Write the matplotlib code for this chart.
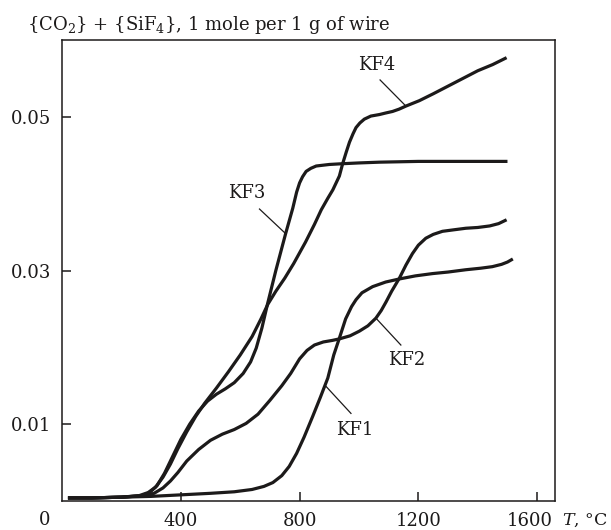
import matplotlib
matplotlib.use('Agg')
import matplotlib.pyplot as plt
from matplotlib.transforms import ScaledTranslation

plt.rcParams['font.family'] = ['DejaVu Serif']
plt.rcParams['mathtext.fontset'] = 'dejavuserif'

# temperature (°C) and gas release (mole per 1 g of wire)
t_kf1 = [20, 100, 200, 300, 400, 500, 580, 640, 680, 710, 740, 765, 790, 815, 844,
         870, 895, 915, 934, 955, 975, 990, 1010, 1046, 1090, 1136, 1190, 1248,
         1300, 1360, 1410, 1449, 1480, 1500, 1518]
v_kf1 = [0.0004, 0.0004, 0.0005, 0.0006, 0.0008, 0.0010, 0.0012, 0.0015, 0.0019,
         0.0024, 0.0033, 0.0045, 0.0062, 0.0083, 0.0110, 0.0135, 0.0160, 0.0190,
         0.0212, 0.0237, 0.0253, 0.0262, 0.0271, 0.0279, 0.0285, 0.0289, 0.0293,
         0.0296, 0.0298, 0.0301, 0.0303, 0.0305, 0.0308, 0.0311, 0.0315]

t_kf2 = [20, 100, 200, 280, 310, 340, 365, 390, 420, 460, 500, 540, 580, 620, 660,
         700, 740, 770, 800, 825, 850, 880, 910, 934, 970, 1001, 1030, 1057, 1075,
         1091, 1110, 1136, 1158, 1180, 1200, 1225, 1250, 1281, 1320, 1360, 1400,
         1440, 1470, 1497]
v_kf2 = [0.0004, 0.0004, 0.0005, 0.0007, 0.0010, 0.0017, 0.0026, 0.0037, 0.0052,
         0.0067, 0.0079, 0.0087, 0.0093, 0.0101, 0.0113, 0.0131, 0.0150, 0.0166,
         0.0185, 0.0196, 0.0203, 0.0207, 0.0209, 0.0211, 0.0215, 0.0221, 0.0228,
         0.0238, 0.0248, 0.0259, 0.0273, 0.0290, 0.0307, 0.0322, 0.0333, 0.0342,
         0.0347, 0.0351, 0.0353, 0.0355, 0.0356, 0.0358, 0.0361, 0.0366]

t_kf3 = [20, 100, 200, 270, 295, 320, 345, 370, 400, 430, 460, 490, 520, 550, 580,
         610, 635, 654, 673, 693, 720, 753, 777, 790, 800, 810, 822, 838, 856, 900,
         945, 1000, 1069, 1200, 1350, 1500]
v_kf3 = [0.0004, 0.0004, 0.0005, 0.0007, 0.0011, 0.0020, 0.0036, 0.0056, 0.0080,
         0.0100, 0.0117, 0.0130, 0.0139, 0.0146, 0.0154, 0.0166, 0.0181, 0.0199,
         0.0225, 0.0258, 0.0300, 0.0348, 0.0381, 0.0402, 0.0414, 0.0422, 0.0429,
         0.0433, 0.0436, 0.0438, 0.0439, 0.0440, 0.0441, 0.0442, 0.0442, 0.0442]

t_kf4 = [20, 100, 200, 260, 290, 315, 340, 365, 390, 420, 450, 480, 520, 560, 600,
         640, 670, 693, 720, 750, 780, 820, 850, 873, 895, 912, 934, 945, 957, 968,
         980, 990, 1003, 1018, 1040, 1069, 1090, 1113, 1135, 1158, 1203, 1250,
         1300, 1350, 1400, 1450, 1497]
v_kf4 = [0.0004, 0.0004, 0.0005, 0.0007, 0.0011, 0.0018, 0.0031, 0.0048, 0.0068,
         0.0090, 0.0110, 0.0127, 0.0147, 0.0168, 0.0190, 0.0214, 0.0237, 0.0256,
         0.0273, 0.0290, 0.0309, 0.0337, 0.0360, 0.0379, 0.0394, 0.0405, 0.0423,
         0.0439, 0.0454, 0.0467, 0.0478, 0.0486, 0.0492, 0.0497, 0.0501, 0.0503,
         0.0505, 0.0507, 0.0510, 0.0514, 0.0521, 0.0530, 0.0540, 0.0550, 0.0560,
         0.0568, 0.0577]

names = ['KF1', 'KF2', 'KF3', 'KF4']
label_xy = [(984, 0.0093), (1160, 0.0183), (622, 0.0401), (1060, 0.0568)]
leader_from = [(887, 0.0150), (1057, 0.0238), (753, 0.0348), (1158, 0.0514)]
leader_to = [(973, 0.0114), (1141, 0.0203), (665, 0.0380), (1071, 0.0548)]

x_ticks = [400, 800, 1200, 1600]
y_ticks = [0.01, 0.03, 0.05]
y_tick_labels = ['0.01', '0.03', '0.05']

ink = '#1c1a1a'

fig = plt.figure(figsize=(6.11, 5.30), dpi=100)
ax = fig.add_axes([62 / 611, 29 / 530, 493 / 611, 461 / 530])

for t, v in [(t_kf1, v_kf1), (t_kf2, v_kf2), (t_kf3, v_kf3), (t_kf4, v_kf4)]:
    ax.plot(t, v, color=ink, lw=2.3, solid_capstyle='butt', solid_joinstyle='round')

# curve names with short leader lines
for name, xy, p0, p1 in zip(names, label_xy, leader_from, leader_to):
    ax.plot([p0[0], p1[0]], [p0[1], p1[1]], color=ink, lw=0.9)
    ax.text(xy[0], xy[1], name, fontsize=13, color=ink, ha='center', va='center')

ax.set_xlim(0, 1660)
ax.set_ylim(0, 0.06)
ax.set_xticks(x_ticks)
ax.set_xticklabels([str(x) for x in x_ticks])
ax.set_yticks(y_ticks)
ax.set_yticklabels(y_tick_labels)
ax.tick_params(direction='in', length=6.5, width=1.1, pad=8, labelsize=13,
               colors=ink)
for s in ax.spines.values():
    s.set_linewidth(1.1)
    s.set_color(ink)

# last x label sits a little left of its tick, leaving room for the unit
last = ax.get_xticklabels()[-1]
last.set_transform(last.get_transform()
                   + ScaledTranslation(-7 / 100, 0, fig.dpi_scale_trans))

fig.text(45 / 611, 1 - 520 / 530, '0', fontsize=13, color=ink,
         ha='center', va='center')
fig.text(562 / 611, 1 - 520 / 530, '$T$, °C', fontsize=12.5, color=ink,
         ha='left', va='center')
fig.text(27 / 611, 1 - 30 / 530,
         '{CO$_2$} + {SiF$_4$}, 1 mole per 1 g of wire',
         fontsize=13, color=ink, ha='left', va='baseline')

fig.savefig('out.png', dpi=100)
